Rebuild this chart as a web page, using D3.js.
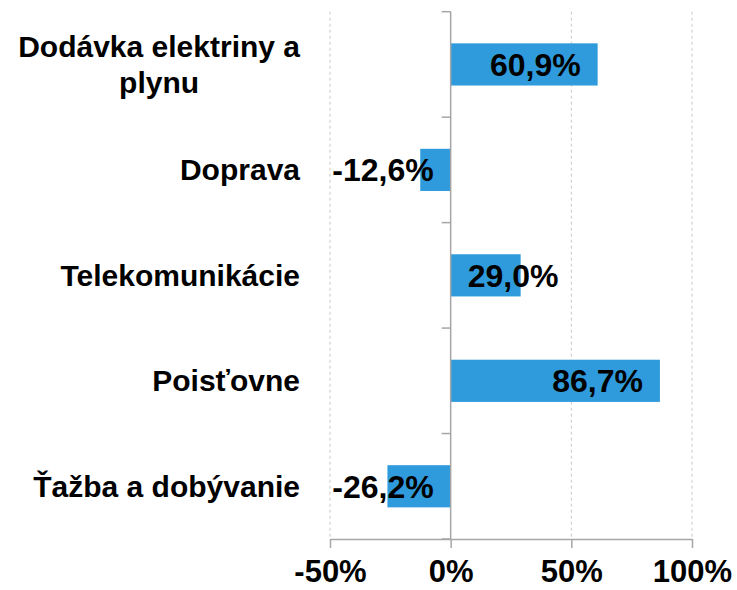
<!DOCTYPE html>
<html>
<head>
<meta charset="utf-8">
<script src="https://cdnjs.cloudflare.com/ajax/libs/d3/7.8.5/d3.min.js"></script>
<style>
  body { margin: 0; background: #fff; }
  text { font-family: "Liberation Sans", Arial, sans-serif; font-weight: bold; fill: #000; }
  .grid line { stroke: #c8c8c8; stroke-dasharray: 3,3; }
  .axis path, .axis line { stroke: #a6a6a6; stroke-width: 1.5; }
</style>
</head>
<body>
<div class="content"></div>
<script>
  var categories = ["Dodávka elektriny a plynu", "Doprava", "Telekomunikácie", "Poisťovne", "Ťažba a dobývanie"];
  var values = [60.9, -12.6, 29.0, 86.7, -26.2];
  var tickValues = [-50, 0, 50, 100];

  var width = 737, height = 590,
      plot = {left: 330, right: 692, top: 11.7, bottom: 539};

  var svg = d3.select(".content").append("svg")
      .attr("width", width)
      .attr("height", height);

  var x = d3.scaleLinear()
      .domain([-50, 100])
      .range([plot.left, plot.right]);

  var y = d3.scaleBand()
      .domain(categories)
      .range([plot.top, plot.bottom])
      .paddingInner(0.6)
      .paddingOuter(0.3);

  var fmt = function(v) { return v.toFixed(1).replace(".", ",") + "%"; };

  // dashed gridlines (not at zero)
  svg.append("g").attr("class", "grid")
    .selectAll("line")
    .data(tickValues.filter(function(d) { return d !== 0; }))
    .enter().append("line")
      .attr("x1", function(d) { return x(d); })
      .attr("x2", function(d) { return x(d); })
      .attr("y1", plot.top)
      .attr("y2", plot.bottom);

  // bars
  svg.append("g").selectAll("rect")
    .data(values)
    .enter().append("rect")
      .attr("x", function(d) { return x(Math.min(0, d)); })
      .attr("y", function(d, i) { return y(categories[i]); })
      .attr("width", function(d) { return Math.abs(x(d) - x(0)); })
      .attr("height", y.bandwidth())
      .attr("fill", "#2f9bdc");

  // x axis
  var xAxis = svg.append("g")
      .attr("class", "axis")
      .attr("transform", "translate(0," + plot.bottom + ")")
      .call(d3.axisBottom(x)
        .tickValues(tickValues)
        .tickSize(9)
        .tickSizeOuter(0)
        .tickPadding(12)
        .tickFormat(function(d) { return d + "%"; }));
  xAxis.selectAll("text")
      .style("font-size", "31px")
      .attr("fill", "#000");

  // y axis line with ticks at band boundaries
  var yAxis = svg.append("g").attr("class", "axis");
  yAxis.append("line")
      .attr("x1", x(0)).attr("x2", x(0))
      .attr("y1", plot.top).attr("y2", plot.bottom);
  yAxis.selectAll(".btick")
    .data(d3.range(categories.length + 1))
    .enter().append("line")
      .attr("class", "btick")
      .attr("x1", x(0) - 9).attr("x2", x(0))
      .attr("y1", function(i) { return plot.top + i * y.step(); })
      .attr("y2", function(i) { return plot.top + i * y.step(); });

  // category labels (wrapped, block right-aligned, lines centered)
  var labelRight = 300, maxW = 290, lineH = 36;
  categories.forEach(function(c) {
    var g = svg.append("g");
    var t = g.append("text").style("font-size", "30px").attr("text-anchor", "middle");
    var words = c.split(" "), lines = [], cur = [];
    words.forEach(function(w) {
      cur.push(w);
      t.text(cur.join(" "));
      if (t.node().getComputedTextLength() > maxW && cur.length > 1) {
        cur.pop();
        lines.push(cur.join(" "));
        cur = [w];
      }
    });
    lines.push(cur.join(" "));
    var widths = lines.map(function(l) {
      t.text(l);
      return t.node().getComputedTextLength();
    });
    t.text(null);
    var bw = d3.max(widths);
    var cy = y(c) + y.bandwidth() / 2;
    lines.forEach(function(l, k) {
      t.append("tspan")
        .attr("x", labelRight - bw / 2)
        .attr("y", cy + 10.5 + (k - (lines.length - 1) / 2) * lineH)
        .text(l);
    });
  });

  // value labels
  svg.append("g").selectAll("text")
    .data(values)
    .enter().append("text")
      .style("font-size", "32px")
      .attr("text-anchor", "end")
      .attr("y", function(d, i) { return y(categories[i]) + y.bandwidth() / 2 + 11.5; })
      .text(fmt)
      .attr("x", function(d) {
        var w = this.getComputedTextLength();
        if (d >= 0) return Math.max(x(d) - 17, x(0) + 17 + w);
        return x(0) - 17;
      });
</script>
</body>
</html>
